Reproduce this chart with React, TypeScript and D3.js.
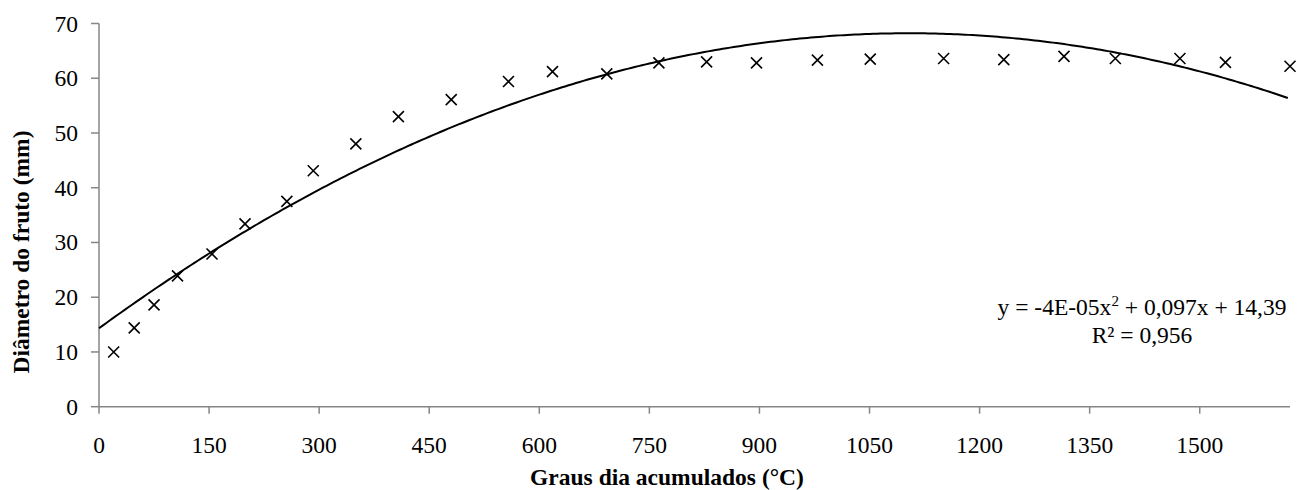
import React from "react";
import * as d3 from "d3";

const grausDia: number[] = [20, 48, 75, 107, 154, 199, 256, 292, 350, 408, 480, 558, 618, 692, 763, 828, 896, 979, 1051, 1151, 1233, 1315, 1385, 1473, 1535, 1623];
const diametro: number[] = [10.0, 14.4, 18.6, 23.9, 27.9, 33.4, 37.5, 43.1, 48.0, 53.0, 56.1, 59.4, 61.2, 60.8, 62.8, 63.0, 62.8, 63.3, 63.5, 63.6, 63.4, 64.0, 63.6, 63.6, 62.9, 62.2];
const xTicks: number[] = [0, 150, 300, 450, 600, 750, 900, 1050, 1200, 1350, 1500];
const yTicks: number[] = [0, 10, 20, 30, 40, 50, 60, 70];

const W = 1298;
const H = 490;
const left = 99;
const right = 1290;
const top = 23.5;
const bottom = 406.7;
const FONT = "'Liberation Serif', 'Times New Roman', serif";
const AXIS = "#868686";

// least-squares quadratic fit (Excel polynomial trendline, order 2)
function quadFit(xs: number[], ys: number[]): [number, number, number] {
  let s0 = 0, s1 = 0, s2 = 0, s3 = 0, s4 = 0, t0 = 0, t1 = 0, t2 = 0;
  xs.forEach((x, i) => {
    const y = ys[i];
    s0 += 1; s1 += x; s2 += x * x; s3 += x * x * x; s4 += x * x * x * x;
    t0 += y; t1 += x * y; t2 += x * x * y;
  });
  const M = [
    [s4, s3, s2, t2],
    [s3, s2, s1, t1],
    [s2, s1, s0, t0],
  ];
  for (let i = 0; i < 3; i++) {
    for (let k = i + 1; k < 3; k++) {
      const f = M[k][i] / M[i][i];
      for (let j = i; j < 4; j++) M[k][j] -= f * M[i][j];
    }
  }
  const sol = [0, 0, 0];
  for (let i = 2; i >= 0; i--) {
    let s = M[i][3];
    for (let j = i + 1; j < 3; j++) s -= M[i][j] * sol[j];
    sol[i] = s / M[i][i];
  }
  return [sol[0], sol[1], sol[2]];
}

export default function App() {
  const x = d3.scaleLinear().domain([0, 1623]).range([left, right]);
  const y = d3.scaleLinear().domain([0, 70]).range([bottom, top]);
  const [a, b, c] = quadFit(grausDia, diametro);
  const curvePts: [number, number][] = d3.range(0, 1623.01, 5).map((v) => [v, a * v * v + b * v + c]);
  const line = d3.line<[number, number]>().x((d) => x(d[0])).y((d) => y(d[1]));
  const m = 5.5;

  return (
    <svg width={W} height={H} style={{ position: "absolute", left: 0, top: 0, background: "#fff" }} fontFamily={FONT}>
      {/* axes */}
      <line x1={left} y1={bottom} x2={right} y2={bottom} stroke={AXIS} strokeWidth={1.5} />
      <line x1={left} y1={top} x2={left} y2={bottom} stroke={AXIS} strokeWidth={1.5} />
      {yTicks.map((t) => (
        <g key={"y" + t}>
          <line x1={left - 8} x2={left} y1={y(t)} y2={y(t)} stroke={AXIS} strokeWidth={1.5} />
          <text x={78} y={y(t) + 8} textAnchor="end" fontSize={23.5} fill="#000">{t}</text>
        </g>
      ))}
      {xTicks.map((t) => (
        <g key={"x" + t}>
          <line x1={x(t)} x2={x(t)} y1={bottom} y2={bottom + 7} stroke={AXIS} strokeWidth={1.5} />
          <text x={x(t)} y={453} textAnchor="middle" fontSize={23.5} fill="#000">{t}</text>
        </g>
      ))}
      {/* trendline */}
      <path d={line(curvePts) || ""} fill="none" stroke="#000" strokeWidth={2} />
      {/* markers */}
      {grausDia.map((gx, i) => {
        const cx = x(gx);
        const cy = y(diametro[i]);
        return (
          <path key={"m" + i} d={`M${cx - m},${cy - m}L${cx + m},${cy + m}M${cx - m},${cy + m}L${cx + m},${cy - m}`} stroke="#000" strokeWidth={1.6} fill="none" />
        );
      })}
      {/* equation */}
      <text x={1142} y={315} textAnchor="middle" fontSize={23.5} fill="#000">
        y = -4E-05x<tspan dy={-9} fontSize={15}>2</tspan><tspan dy={9}> + 0,097x + 14,39</tspan>
      </text>
      <text x={1142} y={343} textAnchor="middle" fontSize={23.5} fill="#000">R² = 0,956</text>
      {/* axis titles */}
      <text x={667} y={485} textAnchor="middle" fontSize={23.5} fontWeight="bold" fill="#000">Graus dia acumulados (°C)</text>
      <text transform={`translate(29,252) rotate(-90)`} textAnchor="middle" fontSize={23.5} fontWeight="bold" fill="#000">Diâmetro do fruto (mm)</text>
    </svg>
  );
}
